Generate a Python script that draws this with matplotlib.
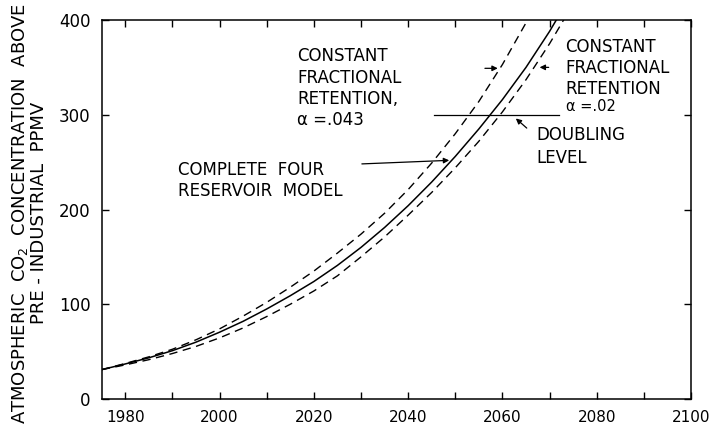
import matplotlib
matplotlib.use("Agg")
import matplotlib.pyplot as plt
from matplotlib.ticker import MultipleLocator

years = [1975, 1980, 1985, 1990, 1995, 2000, 2005, 2010, 2015, 2020, 2025,
         2030, 2035, 2040, 2045, 2050, 2055, 2060, 2065, 2070, 2075]
four_reservoir = [31, 37, 43.5, 51, 60, 70.5, 82, 95, 109, 124, 141,
                  160, 181, 204, 229, 256, 285, 316, 350, 388, 430]
retention_043 = [31, 37.5, 44.5, 52.5, 62.5, 74, 87.5, 102, 118, 135, 154,
                 174, 196, 221, 249, 280, 314, 353, 397, 447, 500]
retention_02 = [31, 36, 41.5, 48, 55.5, 64.5, 75, 87, 100, 114, 130,
                150, 171, 194, 218, 244, 272, 303, 337, 375, 417]
doubling_level = 300
doubling_span = [2045.5, 2072]
x_ticks = [1980, 2000, 2020, 2040, 2060, 2080, 2100]
y_ticks = [0, 100, 200, 300, 400]

plt.rcParams['font.family'] = ['DejaVu Sans']

fig = plt.figure(figsize=(7.14, 4.29), dpi=100)
ax = fig.add_axes([0.1424, 0.0699, 0.9678 - 0.1424, 0.9534 - 0.0699])

ax.plot(years, four_reservoir, color='black', lw=1.1)
ax.plot(years, retention_043, color='black', lw=1.0, linestyle=(0, (6, 4)))
ax.plot(years, retention_02, color='black', lw=1.0, linestyle=(0, (6, 4)))
ax.plot(doubling_span, [doubling_level, doubling_level], color='black', lw=0.9)

ax.set_xlim(1975, 2100)
ax.set_ylim(0, 400)
ax.set_xticks(x_ticks)
ax.set_yticks(y_ticks)
ax.xaxis.set_minor_locator(MultipleLocator(10))
ax.tick_params(which='both', direction='in', top=True, right=True,
               length=5, width=1.0, pad=8)
ax.tick_params(axis='x', labelsize=11)
ax.tick_params(axis='y', labelsize=12)
for s in ax.spines.values():
    s.set_linewidth(1.1)

tkw = dict(fontsize=12, color='black', linespacing=1.22)
ax.text(2016.5, 371, "CONSTANT\nFRACTIONAL\nRETENTION,\nα =.043",
        ha='left', va='top', **tkw)
ax.text(2073.4, 381, "CONSTANT\nFRACTIONAL\nRETENTION",
        ha='left', va='top', **tkw)
ax.text(2073.4, 309, "α =.02", ha='left', va='center', fontsize=10.5)
ax.text(2067.2, 288, "DOUBLING\nLEVEL", ha='left', va='top',
        fontsize=12, linespacing=1.35)
ax.text(1991.1, 251, "COMPLETE  FOUR\nRESERVOIR  MODEL",
        ha='left', va='top', **tkw)

akw = dict(arrowstyle='-|>', color='black', lw=0.9, mutation_scale=8)
ax.annotate("", xy=(2049.3, 252), xytext=(2029.6, 248), arrowprops=akw)
ax.annotate("", xy=(2059.6, 349), xytext=(2055.7, 349), arrowprops=akw)
ax.annotate("", xy=(2067.3, 350), xytext=(2070.4, 350), arrowprops=akw)
ax.annotate("", xy=(2062.4, 298), xytext=(2065.6, 284), arrowprops=akw)

fig.text(0.028, 0.503, "ATMOSPHERIC  CO$_2$  CONCENTRATION  ABOVE",
         rotation=90, ha='center', va='center', fontsize=13)
fig.text(0.0546, 0.503, "PRE - INDUSTRIAL  PPMV",
         rotation=90, ha='center', va='center', fontsize=13)

fig.savefig("out.png", dpi=100)
